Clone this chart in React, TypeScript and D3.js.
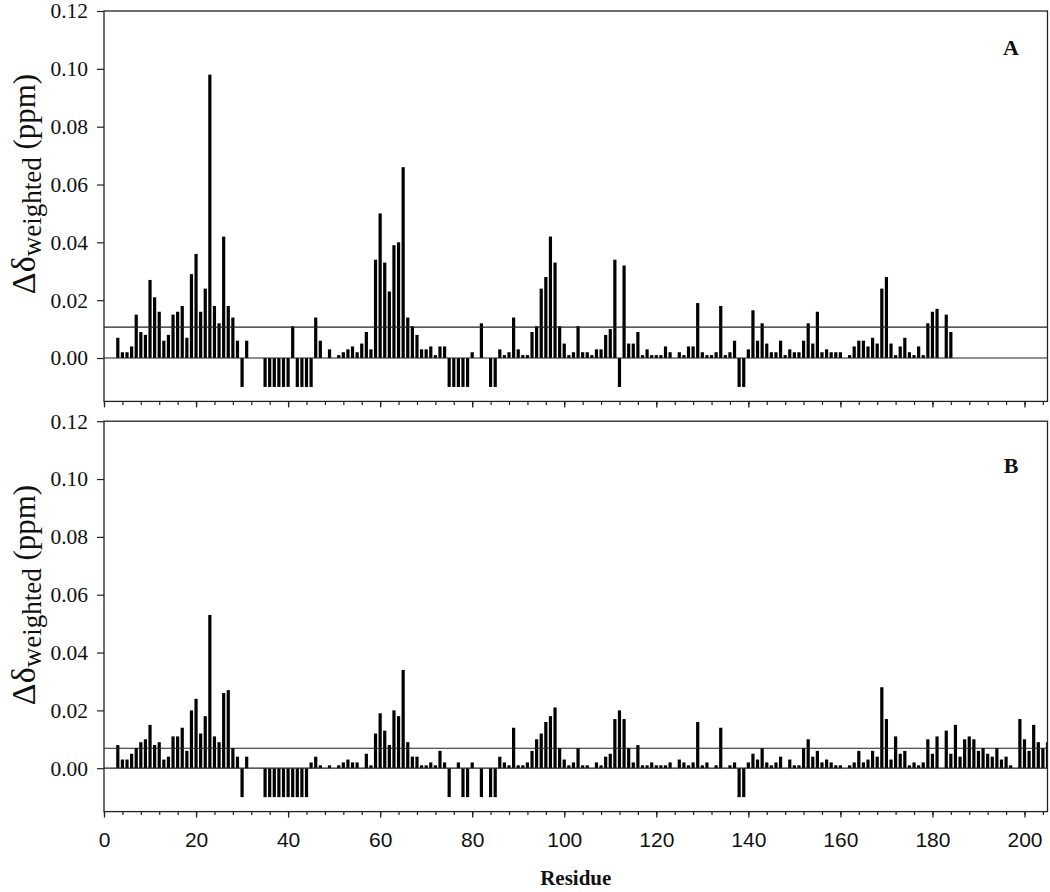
import React, { useEffect, useRef } from 'react';
import * as d3 from 'd3';

// Panel A
const residuesA = [3,4,5,6,7,8,9,10,11,12,13,14,15,16,17,18,19,20,21,22,23,24,25,26,27,28,29,30,31,
  35,36,37,38,39,40,41,42,43,44,45,46,47,49,51,52,53,54,55,56,57,58,59,60,61,62,63,64,65,66,67,68,69,70,
  71,72,73,74,75,76,77,78,79,80,82,84,85,86,87,88,89,90,91,92,93,94,95,96,97,98,99,100,101,102,103,104,
  105,106,107,108,109,110,111,112,113,114,115,116,117,118,119,120,121,122,123,125,126,127,128,129,130,
  131,132,133,134,135,136,137,138,139,140,141,142,143,144,145,146,147,148,149,150,151,152,153,154,155,
  156,157,158,159,160,162,163,164,165,166,167,168,169,170,171,172,173,174,175,176,177,178,179,180,181,183,184];
const shiftA = [0.007,0.002,0.002,0.004,0.015,0.009,0.008,0.027,0.021,0.016,0.006,0.008,0.015,0.016,0.018,0.007,0.029,0.036,0.016,0.024,0.098,0.018,0.012,0.042,0.018,0.014,0.006,-0.01,0.006,
  -0.01,-0.01,-0.01,-0.01,-0.01,-0.01,0.011,-0.01,-0.01,-0.01,-0.01,0.014,0.006,0.003,0.001,0.002,0.003,0.004,0.002,0.005,0.009,0.003,0.034,0.050,0.033,0.023,0.039,0.040,0.066,0.014,0.011,0.008,0.003,0.003,
  0.004,0.001,0.004,0.004,-0.01,-0.01,-0.01,-0.01,-0.01,0.002,0.012,-0.01,-0.01,0.003,0.001,0.002,0.014,0.003,0.001,0.001,0.009,0.011,0.024,0.028,0.042,0.033,0.011,0.005,0.001,0.002,0.011,0.002,
  0.002,0.001,0.003,0.003,0.008,0.010,0.034,-0.01,0.032,0.005,0.005,0.009,0.001,0.003,0.001,0.001,0.001,0.004,0.002,0.002,0.001,0.004,0.004,0.019,0.002,
  0.001,0.001,0.002,0.018,0.001,0.002,0.006,-0.01,-0.01,0.003,0.0165,0.006,0.012,0.005,0.002,0.002,0.006,0.001,0.003,0.002,0.002,0.006,0.012,0.005,0.016,
  0.002,0.003,0.002,0.002,0.002,0.001,0.004,0.006,0.006,0.004,0.007,0.005,0.024,0.028,0.005,0.001,0.004,0.007,0.002,0.001,0.004,0.001,0.012,0.016,0.017,0.015,0.009];

// Panel B
const residuesB = [3,4,5,6,7,8,9,10,11,12,13,14,15,16,17,18,19,20,21,22,23,24,25,26,27,28,29,30,31,
  35,36,37,38,39,40,41,42,43,44,45,46,47,49,51,52,53,54,55,57,58,59,60,61,62,63,64,65,66,67,68,69,70,
  71,72,73,74,75,77,78,79,80,82,84,85,86,87,88,89,90,91,92,93,94,95,96,97,98,99,100,101,102,103,104,
  105,107,108,109,110,111,112,113,114,115,116,117,118,119,120,121,122,123,125,126,127,128,129,130,
  131,133,134,136,137,138,139,140,141,142,143,144,145,146,147,149,150,151,152,153,154,155,
  156,157,158,159,160,162,163,164,165,166,167,168,169,170,171,172,173,174,175,176,177,178,179,180,181,183,184,
  185,186,187,188,189,190,191,192,193,194,195,196,197,199,200,201,202,203,204,205];
const shiftB = [0.008,0.003,0.003,0.005,0.007,0.009,0.010,0.015,0.008,0.009,0.003,0.004,0.011,0.011,0.014,0.006,0.020,0.024,0.012,0.018,0.053,0.011,0.009,0.026,0.027,0.007,0.004,-0.01,0.004,
  -0.01,-0.01,-0.01,-0.01,-0.01,-0.01,-0.01,-0.01,-0.01,-0.01,0.002,0.004,0.001,0.001,0.001,0.002,0.003,0.002,0.002,0.005,0.001,0.012,0.019,0.013,0.008,0.020,0.018,0.034,0.009,0.004,0.004,0.001,0.001,
  0.002,0.001,0.006,0.002,-0.01,0.002,-0.01,-0.01,0.002,-0.01,-0.01,-0.01,0.004,0.002,0.001,0.014,0.001,0.001,0.002,0.006,0.010,0.012,0.016,0.018,0.021,0.007,0.003,0.001,0.002,0.007,0.001,
  0.001,0.002,0.001,0.004,0.005,0.017,0.020,0.017,0.007,0.002,0.008,0.001,0.001,0.002,0.001,0.001,0.001,0.002,0.003,0.002,0.001,0.002,0.016,0.001,
  0.002,0.001,0.014,0.001,0.002,-0.01,-0.01,0.002,0.005,0.003,0.007,0.002,0.001,0.002,0.004,0.003,0.001,0.001,0.007,0.010,0.004,0.006,
  0.002,0.003,0.002,0.001,0.001,0.001,0.002,0.006,0.002,0.003,0.006,0.004,0.028,0.017,0.003,0.011,0.005,0.006,0.001,0.002,0.001,0.002,0.010,0.005,0.011,0.013,0.005,
  0.015,0.004,0.010,0.011,0.010,0.006,0.007,0.005,0.004,0.007,0.003,0.004,0.001,0.017,0.010,0.006,0.015,0.009,0.007,0.009];

const thresholdA = 0.0107;
const thresholdB = 0.0069;
const yTicks = [0, 0.02, 0.04, 0.06, 0.08, 0.10, 0.12];
const xMajorTicks = [0, 20, 40, 60, 80, 100, 120, 140, 160, 180, 200];

const W = 1050;
const H = 892;
const left = 104;
const right = 1047.5;

export default function App() {
  const svgRef = useRef<SVGSVGElement>(null);

  useEffect(() => {
    const svg = d3.select(svgRef.current);
    svg.selectAll('*').remove();

    const x = d3.scaleLinear().domain([0, 205]).range([left, right]);
    const barW = 3.2;
    const minorTicks = d3.range(0, 205, 4);

    const panels = [
      { id: 'A', residues: residuesA, values: shiftA, thr: thresholdA, top: 11, bottom: 401.4, showX: false, labelY: 55, titleY: 184 },
      { id: 'B', residues: residuesB, values: shiftB, thr: thresholdB, top: 421.2, bottom: 811.6, showX: true, labelY: 473, titleY: 595 },
    ];

    panels.forEach(p => {
      const y = d3.scaleLinear().domain([-0.015, 0.12]).range([p.bottom, p.top]);
      const g = svg.append('g');
      const clipId = 'clip' + p.id;
      g.append('clipPath').attr('id', clipId)
        .append('rect')
        .attr('x', left).attr('y', p.top)
        .attr('width', right - left).attr('height', p.bottom - p.top);

      // bars
      const data = p.residues.map((r, i) => ({ r, v: p.values[i] }));
      g.append('g')
        .attr('clip-path', `url(#${clipId})`)
        .selectAll('rect')
        .data(data)
        .enter()
        .append('rect')
        .attr('x', d => x(d.r) - barW / 2)
        .attr('y', d => y(Math.max(0, d.v)))
        .attr('width', barW)
        .attr('height', d => Math.abs(y(d.v) - y(0)))
        .attr('fill', '#000');

      // zero and threshold lines
      [0, p.thr].forEach(v => {
        g.append('line')
          .attr('x1', left).attr('x2', right)
          .attr('y1', y(v)).attr('y2', y(v))
          .attr('stroke', '#222').attr('stroke-width', 1.2);
      });

      // frame
      g.append('rect')
        .attr('x', left).attr('y', p.top)
        .attr('width', right - left).attr('height', p.bottom - p.top)
        .attr('fill', 'none').attr('stroke', '#222').attr('stroke-width', 1.3);

      // y axis
      const yAxis = g.append('g')
        .attr('transform', `translate(${left},0)`)
        .call(d3.axisLeft(y).tickValues(yTicks).tickSize(7).tickSizeOuter(0).tickFormat(d3.format('.2f')));
      yAxis.select('.domain').remove();
      yAxis.selectAll('line').attr('stroke', '#222').attr('stroke-width', 1.2);
      yAxis.selectAll('text')
        .attr('x', -16)
        .attr('font-family', '"Liberation Serif", "Times New Roman", serif')
        .attr('font-size', 21.5)
        .attr('fill', '#111');

      // x axis minor + major
      const xMinor = g.append('g')
        .attr('transform', `translate(0,${p.bottom})`)
        .call(d3.axisBottom(x).tickValues(minorTicks).tickSize(3.5).tickFormat(() => ''));
      xMinor.select('.domain').remove();
      xMinor.selectAll('line').attr('stroke', '#222').attr('stroke-width', 1.2);

      const xMajor = g.append('g')
        .attr('transform', `translate(0,${p.bottom})`)
        .call(d3.axisBottom(x).tickValues(xMajorTicks).tickSize(6).tickSizeOuter(0)
          .tickFormat(p.showX ? (d => String(d)) : () => ''));
      xMajor.select('.domain').remove();
      xMajor.selectAll('line').attr('stroke', '#222').attr('stroke-width', 1.3);
      xMajor.selectAll('text')
        .attr('y', 20)
        .attr('font-family', '"Liberation Sans", Arial, sans-serif')
        .attr('font-size', 21)
        .attr('fill', '#111');

      // panel letter
      g.append('text')
        .attr('x', 1011).attr('y', p.labelY)
        .attr('text-anchor', 'middle')
        .attr('font-family', '"Liberation Serif", "Times New Roman", serif')
        .attr('font-weight', 'bold')
        .attr('font-size', 22)
        .attr('fill', '#111')
        .text(p.id);

      // y axis title
      const t = g.append('text')
        .attr('transform', `translate(35,${p.titleY}) rotate(-90)`)
        .attr('text-anchor', 'middle')
        .attr('font-family', '"Liberation Serif", "Times New Roman", serif')
        .attr('fill', '#111');
      t.append('tspan').attr('font-size', 34).text('Δδ');
      t.append('tspan').attr('font-size', 27).attr('dy', 6).text('weighted');
      t.append('tspan').attr('font-size', 31).attr('dy', -6).text(' (ppm)');
    });

    svg.append('text')
      .attr('x', (left + right) / 2).attr('y', 885)
      .attr('text-anchor', 'middle')
      .attr('font-family', '"Liberation Serif", "Times New Roman", serif')
      .attr('font-weight', 'bold')
      .attr('font-size', 21)
      .attr('fill', '#111')
      .text('Residue');
  }, []);

  return (
    <svg
      ref={svgRef}
      width={W}
      height={H}
      style={{ position: 'absolute', left: 0, top: 0, background: '#fff' }}
    />
  );
}
